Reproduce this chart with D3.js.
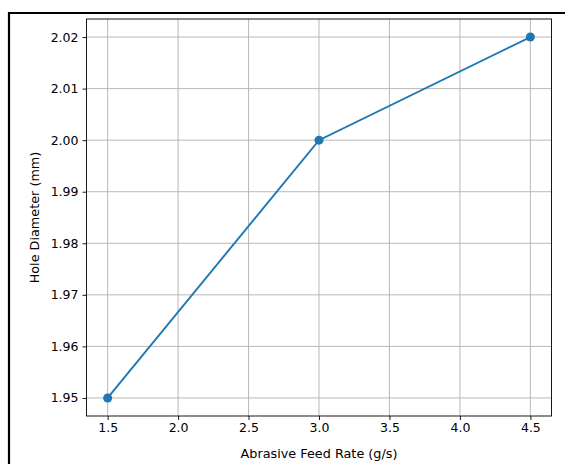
<!DOCTYPE html>
<html><head><meta charset="utf-8">
<script src="https://cdn.jsdelivr.net/npm/d3@7"></script>
<style>
html,body{margin:0;padding:0;background:#fff;}
svg{display:block;}
text{font-family:"DejaVu Sans",sans-serif;fill:#000;}
</style></head>
<body>
<script>
const feedRates = [1.5, 3.0, 4.5];
const holeDiameters = [1.95, 2.00, 2.02];
const xTicks = [1.5, 2.0, 2.5, 3.0, 3.5, 4.0, 4.5];
const yTicks = [1.95, 1.96, 1.97, 1.98, 1.99, 2.00, 2.01, 2.02];
const xLabel = "Abrasive Feed Rate (g/s)";
const yLabel = "Hole Diameter (mm)";

const W = 565, H = 464;
const plot = {left: 86.5, top: 19, right: 551.5, bottom: 416};
const FS = "12.5px";
const LFS = "12.8px";
const svg = d3.select("body").append("svg").attr("width", W).attr("height", H);

// outer frame
svg.append("path").attr("d", `M9,${H+5} L9,13 L${W+5},13`)
  .attr("fill","none").attr("stroke","#000").attr("stroke-width",2.2);

const x = d3.scaleLinear().domain([1.35, 4.65]).range([plot.left, plot.right]);
const y = d3.scaleLinear().domain([1.9465, 2.0235]).range([plot.bottom, plot.top]);

const g = svg.append("g");
// grid
g.selectAll(".gx").data(xTicks).enter().append("line")
  .attr("x1", d=>x(d)).attr("x2", d=>x(d)).attr("y1", plot.top).attr("y2", plot.bottom)
  .attr("stroke","#b0b0b0").attr("stroke-width",0.9);
g.selectAll(".gy").data(yTicks).enter().append("line")
  .attr("y1", d=>y(d)).attr("y2", d=>y(d)).attr("x1", plot.left).attr("x2", plot.right)
  .attr("stroke","#b0b0b0").attr("stroke-width",0.9);

// axes
const xAxis = d3.axisBottom(x).tickValues(xTicks).tickFormat(d3.format(".1f")).tickSize(4).tickPadding(3);
const yAxis = d3.axisLeft(y).tickValues(yTicks).tickFormat(d3.format(".2f")).tickSize(4).tickPadding(4);
const gx = svg.append("g").attr("transform",`translate(0,${plot.bottom})`).call(xAxis);
const gy = svg.append("g").attr("transform",`translate(${plot.left},0)`).call(yAxis);
[gx, gy].forEach(a => {
  a.select(".domain").remove();
  a.selectAll("text").attr("font-family","DejaVu Sans").attr("font-size",FS).attr("fill","#111");
  a.selectAll("line").attr("stroke","#000").attr("stroke-width",0.9);
});

// frame of plot
svg.append("rect").attr("x",plot.left).attr("y",plot.top)
  .attr("width",plot.right-plot.left).attr("height",plot.bottom-plot.top)
  .attr("fill","none").attr("stroke","#000").attr("stroke-width",0.9);

// line
const data = feedRates.map((f,i)=>({x:f, y:holeDiameters[i]}));
svg.append("path").datum(data)
  .attr("d", d3.line().x(d=>x(d.x)).y(d=>y(d.y)))
  .attr("fill","none").attr("stroke","#1f77b4").attr("stroke-width",1.9);
svg.selectAll(".pt").data(data).enter().append("circle")
  .attr("cx", d=>x(d.x)).attr("cy", d=>y(d.y)).attr("r",4.5).attr("fill","#1f77b4");

// labels
svg.append("text").attr("x",(plot.left+plot.right)/2).attr("y",458)
  .attr("text-anchor","middle").attr("font-size",LFS).attr("fill","#111").text(xLabel);
svg.append("text").attr("transform",`translate(39,${(plot.top+plot.bottom)/2}) rotate(-90)`)
  .attr("text-anchor","middle").attr("font-size",LFS).attr("fill","#111").text(yLabel);
</script>
</body></html>
